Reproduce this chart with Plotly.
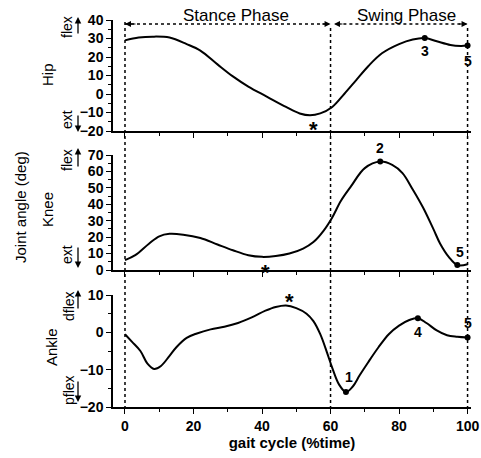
import plotly.graph_objects as go

# ---------------- data ----------------
hip_x = [0, 4, 8, 13, 18, 22, 27, 31.5, 36, 41.5, 47, 51, 54, 57, 60.5, 64, 67.5, 71, 75, 80, 84, 87.5, 91, 95, 98, 100]
hip_y = [29, 30.5, 31, 30.5, 27, 23.5, 16, 9.5, 4, -1.5, -7, -10.5, -11.5, -10.5, -7, 0, 7.5, 15, 22, 27, 29.5, 30.3, 28.5, 26.5, 26, 26.2]

knee_x = [0, 3, 7, 10, 13, 17, 22, 27, 31.5, 36, 40, 44, 48, 52, 55, 58, 60.5, 63, 66, 70, 74.5, 78, 81, 84, 87, 90, 92, 94.5, 97, 100]
knee_y = [6, 9, 16, 20.5, 22, 21.5, 19.5, 15.5, 12, 9, 8, 8.5, 10, 13, 17, 24, 32, 42, 51, 62, 66, 64, 59, 49, 38, 25, 16, 8, 3, 3.5]

ankle_x = [0, 2, 4.5, 6.5, 8.5, 10.5, 13, 15, 18, 21, 25, 29, 33, 37, 41, 44, 47, 50, 53, 55, 57, 59, 60.5, 62.5, 64.5, 66.5, 68.5, 71, 74, 77, 80, 83, 85.5, 88, 91, 94, 97, 100]
ankle_y = [-0.5, -2.5, -5, -8.3, -9.8, -9, -6.3, -4, -1.5, -0.3, 0.8, 1.5, 2.5, 4, 5.8, 6.8, 7.2, 6.5, 5, 3, -0.5, -5.5, -9.5, -14, -16, -14.5, -11.5, -8, -4, -0.5, 1.8, 3.3, 3.8, 2.5, 0.5, -0.8, -1.2, -1.4]

# marked points
hip_pts_x = [87.5, 100]
hip_pts_y = [30.3, 26.2]
hip_pts_lab = ["3", "5"]
knee_pts_x = [74.5, 97]
knee_pts_y = [66, 3]
knee_pts_lab = ["2", "5"]
ankle_pts_x = [64.5, 85.5, 100]
ankle_pts_y = [-16, 3.8, -1.4]
ankle_pts_lab = ["1", "4", "5"]

# asterisk positions (x, value)
star_x = [55, 41, 48]
star_y = [-16.5, 1.5, 9.5]

x_ticks = [0, 20, 40, 60, 80, 100]
phase_bounds = [0, 60, 100]
phase_names = ["Stance Phase", "Swing Phase"]

# ---------------- layout helpers ----------------
W, H = 481, 458
ML, MR, MT, MB = 113, 10, 20, 51
PW = W - ML - MR
PH = H - MT - MB


def px_x(X):
    return (X - ML) / PW


def px_y(Y):
    return (H - MB - Y) / PH


FONT = "Liberation Sans"
BLACK = "black"

fig = go.Figure()

line_style = dict(color=BLACK, width=2)
fig.add_trace(go.Scatter(x=hip_x, y=hip_y, mode="lines", line=line_style, line_shape="spline",
                         xaxis="x", yaxis="y", showlegend=False, hoverinfo="skip"))
fig.add_trace(go.Scatter(x=knee_x, y=knee_y, mode="lines", line=line_style, line_shape="spline",
                         xaxis="x2", yaxis="y2", showlegend=False, hoverinfo="skip"))
fig.add_trace(go.Scatter(x=ankle_x, y=ankle_y, mode="lines", line=line_style, line_shape="spline",
                         xaxis="x3", yaxis="y3", showlegend=False, hoverinfo="skip"))

mk = dict(color=BLACK, size=6)
fig.add_trace(go.Scatter(x=hip_pts_x, y=hip_pts_y, mode="markers", marker=mk, xaxis="x", yaxis="y", showlegend=False))
fig.add_trace(go.Scatter(x=knee_pts_x, y=knee_pts_y, mode="markers", marker=mk, xaxis="x2", yaxis="y2", showlegend=False))
fig.add_trace(go.Scatter(x=ankle_pts_x, y=ankle_pts_y, mode="markers", marker=mk, xaxis="x3", yaxis="y3", showlegend=False))

tickfont = dict(family=FONT, size=14, color=BLACK, weight="bold")


def xax(show_labels, anchor):
    return dict(domain=[0, 1], range=[-3.5, 101], anchor=anchor, showgrid=False, zeroline=False,
                automargin=False,
                showline=True, linecolor=BLACK, linewidth=1.5, ticks="outside", ticklen=5,
                tickwidth=1.2, tickcolor=BLACK, tickvals=x_ticks, showticklabels=show_labels,
                tickfont=tickfont,
                minor=dict(tick0=0, dtick=10, ticks="outside", ticklen=3, tickcolor=BLACK, tickwidth=1))


def yax(domain, rng, dtick, anchor):
    return dict(domain=domain, range=rng, anchor=anchor, showgrid=False, zeroline=False,
                automargin=False,
                showline=True, linecolor=BLACK, linewidth=1.5, ticks="outside", ticklen=5,
                tickwidth=1.2, tickcolor=BLACK, dtick=dtick, tick0=0, tickfont=tickfont,
                minor=dict(tick0=0, dtick=5, ticks="outside", ticklen=3, tickcolor=BLACK, tickwidth=1))


xa3 = xax(True, "y3")
xa3["title"] = dict(text="gait cycle (%time)", font=dict(family=FONT, size=15, color=BLACK, weight="bold"), standoff=0)

fig.update_layout(
    width=W, height=H,
    margin=dict(l=ML, r=MR, t=MT, b=MB, autoexpand=False),
    paper_bgcolor="white", plot_bgcolor="white",
    xaxis=xax(False, "y"),
    xaxis2=xax(False, "y2"),
    xaxis3=xa3,
    yaxis=yax([px_y(131), 1.0], [-20, 40], 10, "x"),
    yaxis2=yax([px_y(270), px_y(155)], [0, 70], 10, "x2"),
    yaxis3=yax([0, px_y(295)], [-20, 10], 10, "x3"),
    showlegend=False,
)

# vertical dotted phase lines
dot = dict(color=BLACK, width=1.5, dash="dot")
for xb, ytop in zip(phase_bounds, [20, 25, 25]):
    fig.add_shape(type="line", xref="x", yref="paper", x0=xb, x1=xb, y0=px_y(409), y1=px_y(ytop), line=dot)

# horizontal phase lines
yl = px_y(24)
fig.add_shape(type="line", xref="x", yref="paper", x0=phase_bounds[0], x1=phase_bounds[1] - 1, y0=yl, y1=yl, line=dot)
fig.add_shape(type="line", xref="x", yref="paper", x0=phase_bounds[1] + 2, x1=phase_bounds[2], y0=yl, y1=yl, line=dot)

annos = []
for xh, ax_ in [(phase_bounds[0], 12), (phase_bounds[1], -10), (phase_bounds[1] + 1, 10), (phase_bounds[2], -10)]:
    annos.append(dict(x=xh, y=yl, xref="x", yref="paper", text="", showarrow=True, ax=ax_, ay=0,
                      arrowhead=2, arrowsize=1, arrowwidth=1.2, arrowcolor=BLACK))

phase_font = dict(family=FONT, size=17, color=BLACK)
annos.append(dict(x=32.3, y=px_y(16), xref="x", yref="paper", text=phase_names[0], showarrow=False,
                  font=phase_font, xanchor="center", yanchor="middle"))
annos.append(dict(x=82.3, y=px_y(16), xref="x", yref="paper", text=phase_names[1], showarrow=False,
                  font=phase_font, xanchor="center", yanchor="middle"))

# point labels
lab_font = dict(family=FONT, size=14, color=BLACK)
lab_offsets = {
    ("x", "y"): [(0, -13), (0, -15)],
    ("x2", "y2"): [(0, 14), (3, 13)],
    ("x3", "y3"): [(3, 15), (0, -14), (0, 15)],
}
for (xr, yr), xs, ys, labs in [(("x", "y"), hip_pts_x, hip_pts_y, hip_pts_lab),
                               (("x2", "y2"), knee_pts_x, knee_pts_y, knee_pts_lab),
                               (("x3", "y3"), ankle_pts_x, ankle_pts_y, ankle_pts_lab)]:
    for (dx, dy), xv, yv, lb in zip(lab_offsets[(xr, yr)], xs, ys, labs):
        annos.append(dict(x=xv, y=yv, xref=xr, yref=yr, text="<b>" + lb + "</b>", showarrow=False,
                          xshift=dx, yshift=dy, font=lab_font, xanchor="center", yanchor="middle"))

# asterisks
for (xr, yr), sx, sy in zip([("x", "y"), ("x2", "y2"), ("x3", "y3")], star_x, star_y):
    annos.append(dict(x=sx, y=sy, xref=xr, yref=yr, text="<b>*</b>", showarrow=False,
                      font=dict(family=FONT, size=22, color=BLACK), yshift=-5,
                      xanchor="center", yanchor="middle"))

# joint names and y titles
title_font = dict(family=FONT, size=15, color=BLACK)
for txt, X, Y in [("Hip", 47, 75), ("Knee", 48, 210), ("Ankle", 51, 347), ("Joint angle (deg)", 20, 207)]:
    annos.append(dict(x=px_x(X), y=px_y(Y), xref="paper", yref="paper", text=txt, textangle=-90,
                      showarrow=False, font=title_font, xanchor="center", yanchor="middle"))

small_font = dict(family=FONT, size=14, color=BLACK)
for txt, X, Y in [("flex", 67, 27), ("ext", 67, 120), ("flex", 67, 160), ("ext", 67, 255),
                  ("dflex", 69, 306), ("pflex", 69, 390)]:
    annos.append(dict(x=px_x(X), y=px_y(Y), xref="paper", yref="paper", text=txt, textangle=-90,
                      showarrow=False, font=small_font, xanchor="center", yanchor="middle"))

# direction arrows
for X, Yh, ay in [(78, 17, 18), (78, 132, -18), (78, 148, 20), (78, 268, -22), (78, 290, 20), (78, 402, -22)]:
    annos.append(dict(x=px_x(X), y=px_y(Yh), xref="paper", yref="paper", text="", showarrow=True,
                      ax=0, ay=ay, arrowhead=2, arrowsize=1, arrowwidth=1.3, arrowcolor=BLACK))

fig.update_layout(annotations=annos)

fig.write_html("out.html")
